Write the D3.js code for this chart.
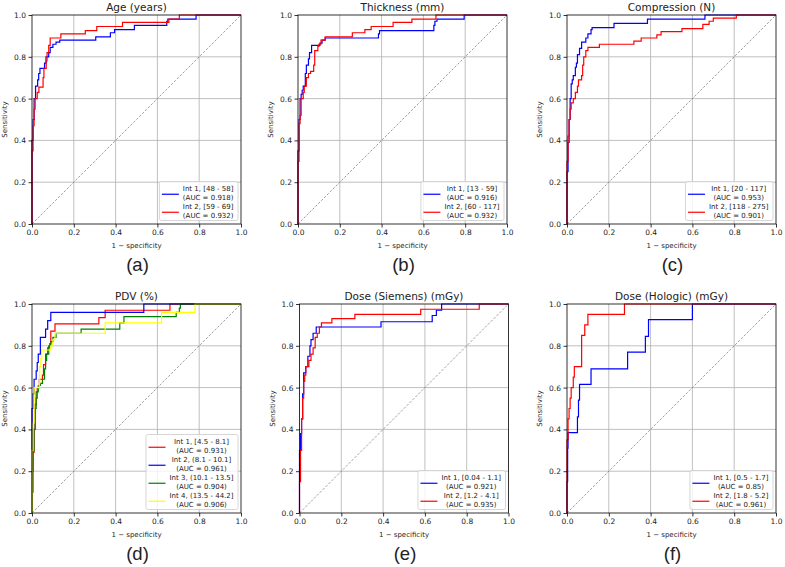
<!DOCTYPE html>
<html>
<head>
<meta charset="utf-8">
<script src="https://cdn.jsdelivr.net/npm/d3@7"></script>
<style>
  body { margin: 0; background: #fff; }
  svg text { font-family: "DejaVu Sans", sans-serif; fill: #222; }
</style>
</head>
<body>
<svg id="chart" width="785" height="567"></svg>
<script>
// tick values shared by both axes
const tickValues = [0, 0.2, 0.4, 0.6, 0.8, 1.0];

// panel titles and sub labels
const titles = ['Age (years)', 'Thickness (mm)', 'Compression (N)', 'PDV (%)', 'Dose (Siemens) (mGy)', 'Dose (Hologic) (mGy)'];
const subLabels = ['(a)', '(b)', '(c)', '(d)', '(e)', '(f)'];

// ROC step points: [1 - specificity, sensitivity after the jump]
const ageInt1 = [[0,0],[0,0.4],[0.005,0.5],[0.01,0.6],[0.017,0.66],[0.027,0.69],[0.032,0.72],[0.038,0.745],[0.06,0.77],[0.067,0.8],[0.08,0.82],[0.087,0.845],[0.1,0.86],[0.115,0.87],[0.133,0.88],[0.305,0.895],[0.375,0.915],[0.395,0.93],[0.49,0.95],[0.645,0.97],[0.65,0.98],[0.785,1.0],[1,1]];
const ageInt2 = [[0,0],[0,0.35],[0.005,0.47],[0.01,0.55],[0.015,0.6],[0.025,0.63],[0.033,0.655],[0.053,0.7],[0.057,0.745],[0.068,0.78],[0.072,0.82],[0.08,0.855],[0.087,0.89],[0.138,0.91],[0.255,0.925],[0.31,0.945],[0.433,0.965],[0.655,0.98],[0.705,1.0],[1,1]];

const thickInt1 = [[0,0],[0,0.35],[0.005,0.5],[0.01,0.6],[0.015,0.62],[0.02,0.64],[0.025,0.66],[0.035,0.72],[0.04,0.76],[0.05,0.79],[0.055,0.82],[0.065,0.855],[0.105,0.865],[0.115,0.88],[0.13,0.89],[0.385,0.91],[0.39,0.925],[0.65,0.95],[0.655,0.97],[0.665,0.98],[0.795,1.0],[1,1]];
const thickInt2 = [[0,0],[0,0.3],[0.005,0.48],[0.01,0.52],[0.015,0.6],[0.025,0.63],[0.03,0.66],[0.04,0.7],[0.05,0.72],[0.06,0.73],[0.075,0.76],[0.08,0.83],[0.095,0.85],[0.1,0.86],[0.11,0.88],[0.13,0.895],[0.26,0.915],[0.32,0.93],[0.35,0.945],[0.455,0.965],[0.545,0.98],[0.66,1.0],[1,1]];

const compInt1 = [[0,0],[0,0.25],[0.005,0.39],[0.01,0.5],[0.015,0.6],[0.02,0.67],[0.025,0.69],[0.03,0.71],[0.04,0.75],[0.045,0.77],[0.05,0.81],[0.06,0.84],[0.07,0.87],[0.09,0.89],[0.1,0.91],[0.115,0.93],[0.12,0.94],[0.225,0.96],[0.385,0.98],[0.66,1.0],[1,1]];
const compInt2 = [[0,0],[0,0.3],[0.005,0.42],[0.01,0.5],[0.015,0.55],[0.02,0.58],[0.03,0.6],[0.04,0.63],[0.05,0.66],[0.055,0.69],[0.07,0.71],[0.075,0.76],[0.08,0.8],[0.09,0.83],[0.1,0.845],[0.155,0.86],[0.32,0.875],[0.355,0.89],[0.43,0.905],[0.45,0.92],[0.55,0.935],[0.65,0.955],[0.68,0.97],[0.7,0.985],[0.81,1.0],[1,1]];

const pdvInt1 = [[0,0],[0,0.2],[0.005,0.29],[0.01,0.4],[0.015,0.52],[0.02,0.55],[0.025,0.6],[0.035,0.64],[0.05,0.66],[0.055,0.71],[0.065,0.76],[0.075,0.79],[0.085,0.81],[0.09,0.87],[0.11,0.905],[0.32,0.935],[0.35,0.97],[0.66,1.0],[1,1]];
const pdvInt2 = [[0,0],[0,0.5],[0.005,0.57],[0.01,0.64],[0.02,0.68],[0.025,0.72],[0.03,0.76],[0.04,0.84],[0.065,0.88],[0.075,0.92],[0.09,0.96],[0.535,1.0],[1,1]];
const pdvInt3 = [[0,0],[0,0.1],[0.005,0.3],[0.01,0.4],[0.015,0.5],[0.02,0.58],[0.03,0.61],[0.04,0.62],[0.05,0.64],[0.06,0.69],[0.065,0.73],[0.07,0.76],[0.08,0.8],[0.09,0.82],[0.1,0.84],[0.115,0.86],[0.235,0.88],[0.42,0.91],[0.44,0.94],[0.69,0.96],[0.705,0.98],[0.71,1.0],[1,1]];
const pdvInt4 = [[0,0],[0,0.3],[0.005,0.43],[0.01,0.6],[0.035,0.62],[0.037,0.7],[0.042,0.74],[0.047,0.78],[0.09,0.8],[0.1,0.83],[0.11,0.86],[0.35,0.91],[0.62,0.96],[0.78,1.0],[1,1]];

const siemInt1 = [[0,0],[0,0.3],[0.005,0.38],[0.01,0.45],[0.015,0.57],[0.02,0.67],[0.03,0.7],[0.04,0.75],[0.05,0.8],[0.055,0.83],[0.065,0.86],[0.08,0.89],[0.39,0.915],[0.635,0.945],[0.655,0.97],[0.68,1.0],[1,1]];
const siemInt2 = [[0,0],[0,0.15],[0.005,0.3],[0.01,0.45],[0.015,0.55],[0.02,0.63],[0.025,0.66],[0.03,0.7],[0.045,0.73],[0.055,0.76],[0.065,0.79],[0.075,0.84],[0.085,0.86],[0.095,0.89],[0.105,0.91],[0.155,0.93],[0.265,0.95],[0.58,0.975],[0.86,1.0],[1,1]];

const holInt1 = [[0,0],[0,0.15],[0.003,0.31],[0.005,0.385],[0.05,0.46],[0.055,0.54],[0.06,0.615],[0.115,0.69],[0.29,0.77],[0.375,0.845],[0.39,0.925],[0.6,1.0],[1,1]];
const holInt2 = [[0,0],[0,0.35],[0.005,0.45],[0.01,0.5],[0.015,0.55],[0.02,0.6],[0.03,0.65],[0.035,0.7],[0.07,0.85],[0.085,0.9],[0.1,0.95],[0.275,1.0],[1,1]];

// legend labels (two lines each)
const ageLabels = [['Int 1, [48 - 58]', '(AUC = 0.918)'], ['Int 2, [59 - 69]', '(AUC = 0.932)']];
const thickLabels = [['Int 1, [13 - 59]', '(AUC = 0.916)'], ['Int 2, [60 - 117]', '(AUC = 0.932)']];
const compLabels = [['Int 1, [20 - 117]', '(AUC = 0.953)'], ['Int 2, [118 - 275]', '(AUC = 0.901)']];
const pdvLabels = [['Int 1, [4.5 - 8.1]', '(AUC = 0.931)'], ['Int 2, (8.1 - 10.1]', '(AUC = 0.961)'], ['Int 3, (10.1 - 13.5]', '(AUC = 0.904)'], ['Int 4, (13.5 - 44.2]', '(AUC = 0.906)']];
const siemLabels = [['Int 1, [0.04 - 1.1]', '(AUC = 0.921)'], ['Int 2, [1.2 - 4.1]', '(AUC = 0.935)']];
const holLabels = [['Int 1, [0.5 - 1.7]', '(AUC = 0.85)'], ['Int 2, [1.8 - 5.2]', '(AUC = 0.961)']];

const blue = '#0000ff', red = '#ff0000', green = '#008000', yellow = '#ffff00';

// plot areas [left, top] of each panel, size is common
const panelPos = [[32, 15], [298, 15], [567, 15], [32, 304], [299.5, 304], [567, 304]];
const plotSize = 209;

const panels = [
    { curves: [ageInt1, ageInt2], labels: ageLabels, colors: [blue, red] },
    { curves: [thickInt1, thickInt2], labels: thickLabels, colors: [blue, red] },
    { curves: [compInt1, compInt2], labels: compLabels, colors: [blue, red] },
    { curves: [pdvInt1, pdvInt2, pdvInt3, pdvInt4], labels: pdvLabels, colors: [red, blue, green, yellow] },
    { curves: [siemInt1, siemInt2], labels: siemLabels, colors: [blue, red] },
    { curves: [holInt1, holInt2], labels: holLabels, colors: [blue, red] }
];

const svg = d3.select('#chart');

panels.forEach((p, i) => {
    const [left, top] = panelPos[i];
    const g = svg.append('g').attr('transform', `translate(${left},${top})`);

    const x = d3.scaleLinear().domain([0, 1]).range([0, plotSize]);
    const y = d3.scaleLinear().domain([0, 1]).range([plotSize, 0]);

    // grid
    g.append('g').selectAll('line.gx')
        .data(tickValues.slice(1, -1))
        .join('line')
        .attr('x1', d => x(d)).attr('x2', d => x(d))
        .attr('y1', 0).attr('y2', plotSize)
        .attr('stroke', '#b0b0b0').attr('stroke-width', 0.8);
    g.append('g').selectAll('line.gy')
        .data(tickValues.slice(1, -1))
        .join('line')
        .attr('y1', d => y(d)).attr('y2', d => y(d))
        .attr('x1', 0).attr('x2', plotSize)
        .attr('stroke', '#b0b0b0').attr('stroke-width', 0.8);

    // chance diagonal
    g.append('line')
        .attr('x1', x(0)).attr('y1', y(0))
        .attr('x2', x(1)).attr('y2', y(1))
        .attr('stroke', '#777').attr('stroke-width', 0.7)
        .attr('stroke-dasharray', '2.5,1.6');

    // ROC curves
    const line = d3.line()
        .x(d => x(d[0]))
        .y(d => y(d[1]))
        .curve(d3.curveStepAfter);

    p.curves.forEach((c, k) => {
        g.append('path')
            .attr('d', line(c))
            .attr('fill', 'none')
            .attr('stroke', p.colors[k])
            .attr('stroke-width', 1.2);
    });

    // frame
    g.append('rect')
        .attr('width', plotSize).attr('height', plotSize)
        .attr('fill', 'none').attr('stroke', '#000').attr('stroke-width', 0.8);

    // axes
    const xAxis = g.append('g')
        .attr('transform', `translate(0,${plotSize})`)
        .call(d3.axisBottom(x).tickValues(tickValues).tickFormat(d3.format('.1f')).tickSize(3.5).tickPadding(2.5));
    const yAxis = g.append('g')
        .call(d3.axisLeft(y).tickValues(tickValues).tickFormat(d3.format('.1f')).tickSize(3.5).tickPadding(2.5));
    [xAxis, yAxis].forEach(a => {
        a.select('.domain').remove();
        a.selectAll('line').attr('stroke', '#000').attr('stroke-width', 0.8);
        a.selectAll('text').attr('font-size', 7.5).attr('font-family', '"DejaVu Sans", sans-serif').attr('fill', '#222');
    });

    // title and axis labels
    g.append('text')
        .attr('x', plotSize / 2).attr('y', -4.5)
        .attr('text-anchor', 'middle')
        .attr('font-size', 10.5)
        .text(titles[i]);
    g.append('text')
        .attr('x', plotSize / 2).attr('y', plotSize + 24)
        .attr('text-anchor', 'middle')
        .attr('font-size', 7)
        .text('1 \u2212 specificity');
    g.append('text')
        .attr('transform', `translate(-25,${plotSize / 2}) rotate(-90)`)
        .attr('text-anchor', 'middle')
        .attr('font-size', 7)
        .text('Sensitivity');

    // sub label
    g.append('text')
        .attr('x', plotSize / 2 + 1).attr('y', plotSize + 47)
        .attr('text-anchor', 'middle')
        .attr('font-size', 18.5)
        .style('font-family', '"Liberation Sans", Arial, sans-serif')
        .text(subLabels[i]);

    // legend, lower right
    const fs = 7, lineStep = 9.5, entryStep = 18;
    const leg = g.append('g');
    const texts = leg.append('g');
    let tw = 0;
    p.labels.forEach((lab, k) => {
        lab.forEach((s, j) => {
            const t = texts.append('text')
                .attr('font-size', fs)
                .attr('text-anchor', 'middle')
                .attr('y', k * entryStep + j * lineStep)
                .text(s);
            tw = Math.max(tw, t.node().getComputedTextLength());
        });
    });
    const boxW = 2.5 + 17 + 4 + tw + 4.5;
    const boxH = p.labels.length * entryStep + 3;
    const bx = plotSize - 3 - boxW;
    const by = plotSize - 3.5 - boxH;
    leg.insert('rect', ':first-child')
        .attr('x', bx).attr('y', by)
        .attr('width', boxW).attr('height', boxH)
        .attr('rx', 2)
        .attr('fill', '#fff').attr('fill-opacity', 0.8)
        .attr('stroke', '#ccc').attr('stroke-width', 0.8);
    texts.attr('transform', `translate(${bx + 2.5 + 17 + 4 + tw / 2},${by + 9})`);
    p.labels.forEach((lab, k) => {
        const ly = by + 9 + k * entryStep + lineStep / 2 - 1;
        leg.append('line')
            .attr('x1', bx + 2.5).attr('x2', bx + 19.5)
            .attr('y1', ly).attr('y2', ly)
            .attr('stroke', p.colors[k]).attr('stroke-width', 1.2);
    });
});
</script>
</body>
</html>
